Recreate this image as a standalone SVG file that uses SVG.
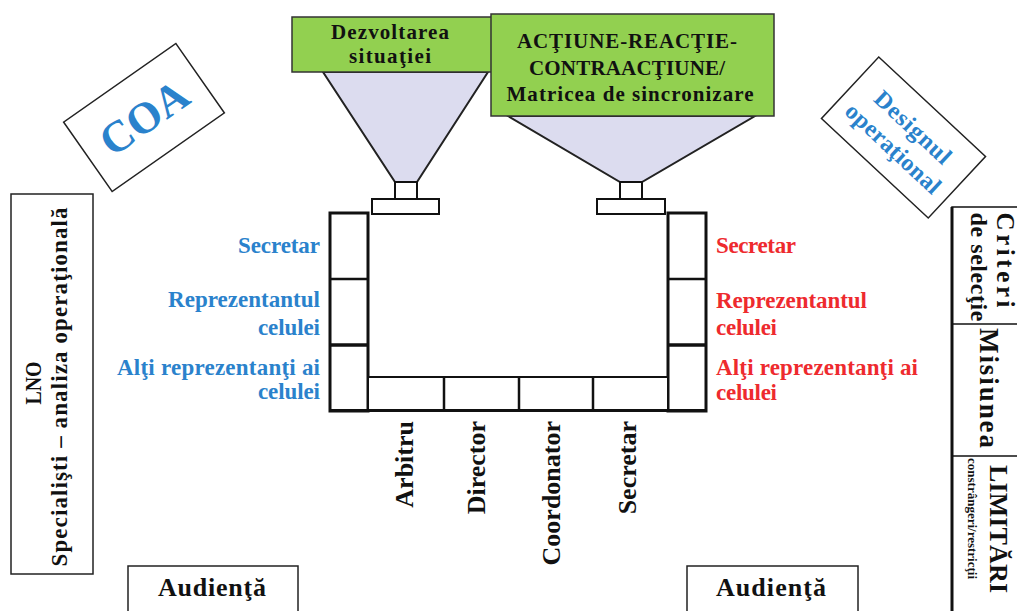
<svg xmlns="http://www.w3.org/2000/svg" width="1017" height="611" viewBox="0 0 1017 611">
<style>
.t{font-family:"Liberation Serif","Times New Roman",serif;font-weight:bold}
.blue{fill:#2a82cc}
.red{fill:#ee2a2e}
.blk{fill:#111}
.green{fill:#92d050;stroke:#333;stroke-width:1.5}
.funnel{fill:#dcdcef;stroke:#222;stroke-width:2}
.box{fill:#fff;stroke:#222;stroke-width:1.5}
.thick{fill:#fff;stroke:#111;stroke-width:3}
.mid{fill:#fff;stroke:#111;stroke-width:2}
</style>
<rect width="1017" height="611" fill="#fff"/>

<g id="funnel-left">
<polygon class="funnel" points="323,72 488,72 417,182 395,182"/>
<rect class="mid" x="395" y="182" width="22" height="17"/>
<rect class="mid" x="372" y="199" width="67" height="15"/>
</g>
<g id="funnel-right">
<polygon class="funnel" points="508,116 755,116 642,182 620,182"/>
<rect class="mid" x="620" y="182" width="22" height="17"/>
<rect class="mid" x="597" y="199" width="68" height="15"/>
</g>

<g id="dezvoltarea">
<rect class="green" x="292" y="17" width="200" height="55"/>
<text class="t blk" x="390" y="39" font-size="21" text-anchor="middle" textLength="118" lengthAdjust="spacing">Dezvoltarea</text>
<text class="t blk" x="390" y="63" font-size="21" text-anchor="middle" textLength="82" lengthAdjust="spacing">situaţiei</text>
</g>
<g id="actiune">
<rect class="green" x="491" y="14" width="283" height="102"/>
<text class="t blk" x="627" y="48" font-size="21" text-anchor="middle" textLength="220" lengthAdjust="spacing">ACŢIUNE-REACŢIE-</text>
<text class="t blk" x="627" y="75" font-size="21" text-anchor="middle" textLength="196" lengthAdjust="spacing">CONTRAACŢIUNE/</text>
<text class="t blk" x="630" y="101" font-size="21" text-anchor="middle" textLength="247" lengthAdjust="spacing">Matricea de sincronizare</text>
</g>

<g id="coa" transform="translate(144,117.5) rotate(-35)">
<rect class="box" x="-68.5" y="-42.3" width="137" height="84.6"/>
<text class="t blue" x="0" y="15" font-size="44" text-anchor="middle">COA</text>
</g>

<g id="designul" transform="translate(903.5,137.5) rotate(43)">
<rect class="box" x="-73" y="-42" width="146" height="84"/>
<text class="t blue" x="0" y="-6" font-size="24" text-anchor="middle" textLength="96" lengthAdjust="spacing">Designul</text>
<text class="t blue" x="0" y="23" font-size="24" text-anchor="middle" textLength="121" lengthAdjust="spacing">operaţional</text>
</g>

<g id="lno">
<rect class="box" x="11" y="194" width="82" height="380"/>
<text class="t blk" transform="translate(41,383) rotate(-90)" font-size="23" text-anchor="middle" textLength="43" lengthAdjust="spacingAndGlyphs">LNO</text>
<text class="t blk" transform="translate(67,387) rotate(-90)" font-size="23" text-anchor="middle" textLength="359" lengthAdjust="spacing">Specialişti  –  analiza  operaţională</text>
</g>

<g id="right-panel">
<rect x="952" y="207" width="80" height="420" fill="#fff" stroke="#111" stroke-width="1.5"/>
<line x1="952" y1="207" x2="952" y2="611" stroke="#111" stroke-width="3"/>
<line x1="952" y1="324" x2="1017" y2="324" stroke="#111" stroke-width="1.5"/>
<line x1="952" y1="456" x2="1017" y2="456" stroke="#111" stroke-width="1.5"/>
<text class="t blk" transform="translate(997,260) rotate(90)" font-size="25" text-anchor="middle" textLength="95" lengthAdjust="spacing">Criteri</text>
<text class="t blk" transform="translate(971,267) rotate(90)" font-size="24" text-anchor="middle" textLength="109" lengthAdjust="spacing">de selecţie</text>
<text class="t blk" transform="translate(980,388) rotate(90)" font-size="27" text-anchor="middle" textLength="120" lengthAdjust="spacing">Misiunea</text>
<text class="t blk" transform="translate(990,465) rotate(90)" font-size="26" textLength="128" lengthAdjust="spacing">LIMITĂRI</text>
<text class="t blk" transform="translate(968,458) rotate(90)" font-size="13">constrângeri/restricţii</text>
</g>

<g id="table">
<rect class="thick" x="330" y="213" width="38" height="198"/>
<line x1="330" y1="279" x2="368" y2="279" stroke="#111" stroke-width="2.5"/>
<line x1="330" y1="345" x2="368" y2="345" stroke="#111" stroke-width="3.5"/>
<rect class="thick" x="668" y="213" width="38" height="198"/>
<line x1="668" y1="279" x2="706" y2="279" stroke="#111" stroke-width="2.5"/>
<line x1="668" y1="345" x2="706" y2="345" stroke="#111" stroke-width="3.5"/>
<rect class="mid" x="368" y="377" width="300" height="33"/>
<line x1="444" y1="377" x2="444" y2="410" stroke="#111" stroke-width="2.5"/>
<line x1="519" y1="377" x2="519" y2="410" stroke="#111" stroke-width="2.5"/>
<line x1="593" y1="377" x2="593" y2="410" stroke="#111" stroke-width="2.5"/>
<line x1="330" y1="410.5" x2="706" y2="410.5" stroke="#111" stroke-width="3"/>
</g>

<g id="left-labels">
<text class="t blue" x="320" y="253" font-size="23" text-anchor="end" textLength="82" lengthAdjust="spacing">Secretar</text>
<text class="t blue" x="320" y="307" font-size="23" text-anchor="end" textLength="152" lengthAdjust="spacing">Reprezentantul</text>
<text class="t blue" x="320" y="335" font-size="23" text-anchor="end" textLength="62" lengthAdjust="spacing">celulei</text>
<text class="t blue" x="320" y="375" font-size="23" text-anchor="end" textLength="203" lengthAdjust="spacing">Alţi reprezentanţi  ai</text>
<text class="t blue" x="320" y="399" font-size="23" text-anchor="end" textLength="62" lengthAdjust="spacing">celulei</text>
</g>
<g id="right-labels">
<text class="t red" x="716" y="253" font-size="23" textLength="80" lengthAdjust="spacing">Secretar</text>
<text class="t red" x="716" y="308" font-size="23" textLength="151" lengthAdjust="spacing">Reprezentantul</text>
<text class="t red" x="716" y="335" font-size="23" textLength="61" lengthAdjust="spacing">celulei</text>
<text class="t red" x="716" y="375" font-size="23" textLength="202" lengthAdjust="spacing">Alţi reprezentanţi  ai</text>
<text class="t red" x="716" y="400" font-size="23" textLength="61" lengthAdjust="spacing">celulei</text>
</g>
<g id="bottom-labels">
<text class="t blk" transform="translate(413,421) rotate(-90)" font-size="26" text-anchor="end">Arbitru</text>
<text class="t blk" transform="translate(485,421) rotate(-90)" font-size="26" text-anchor="end">Director</text>
<text class="t blk" transform="translate(560,421) rotate(-90)" font-size="26" text-anchor="end">Coordonator</text>
<text class="t blk" transform="translate(636,421) rotate(-90)" font-size="26" text-anchor="end">Secretar</text>
</g>

<g id="audienta-left">
<rect class="box" x="128" y="566" width="170" height="60"/>
<text class="t blk" x="212" y="596" font-size="26" text-anchor="middle" textLength="108" lengthAdjust="spacing">Audienţă</text>
</g>
<g id="audienta-right">
<rect class="box" x="687" y="566" width="171" height="60"/>
<text class="t blk" x="771" y="596" font-size="26" text-anchor="middle" textLength="110" lengthAdjust="spacing">Audienţă</text>
</g>
</svg>
